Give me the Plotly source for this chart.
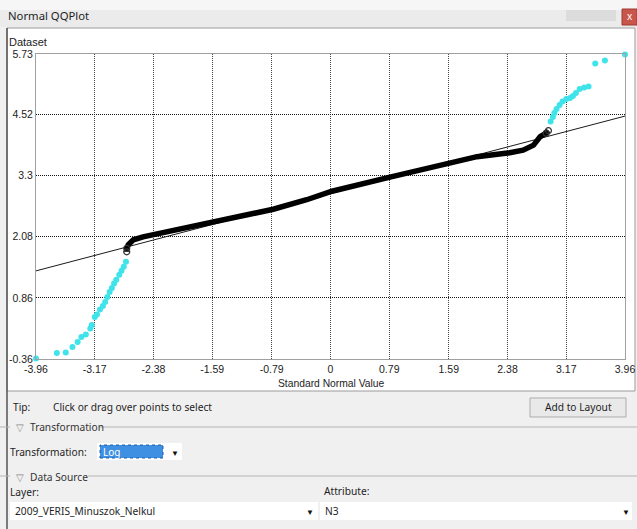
import plotly.graph_objects as go

W, H = 637, 529

# ---- data ----
x_ticks = [-3.96, -3.17, -2.38, -1.59, -0.79, 0, 0.79, 1.59, 2.38, 3.17, 3.96]
x_ticktext = ["-3.96", "-3.17", "-2.38", "-1.59", "-0.79", "0", "0.79", "1.59", "2.38", "3.17", "3.96"]
y_ticks = [-0.36, 0.86, 2.08, 3.3, 4.52, 5.73]
y_ticktext = ["-0.36", "0.86", "2.08", "3.3", "4.52", "5.73"]

# main body of the QQ plot (black hollow circles, dense band)
black_x = [-2.74, -2.74, -2.72, -2.65, -2.52, -2.36, -1.98, -1.58, -1.08, -0.77, -0.32,
           0.02, 0.80, 1.58, 1.97, 2.41, 2.59, 2.73, 2.82, 2.90, 2.93]
black_y = [1.78, 1.85, 1.92, 2.02, 2.08, 2.13, 2.23, 2.35, 2.52, 2.63, 2.82,
           2.99, 3.27, 3.55, 3.68, 3.76, 3.81, 3.91, 4.08, 4.15, 4.20]

# lower tail (cyan, selected points)
low_x = [-3.96, -3.68, -3.56, -3.47, -3.40, -3.35, -3.29, -3.23, -3.21, -3.17, -3.14,
         -3.10, -3.06, -3.03, -3.00, -2.97, -2.94, -2.91, -2.88, -2.84, -2.81, -2.78, -2.75]
low_y = [-0.35, -0.24, -0.23, -0.12, -0.02, 0.08, 0.13, 0.25, 0.32, 0.48, 0.53,
         0.63, 0.70, 0.78, 0.88, 0.98, 1.06, 1.15, 1.22, 1.32, 1.40, 1.48, 1.58]

# upper tail (cyan, selected points)
up_x = [2.96, 2.99, 3.01, 3.04, 3.08, 3.12, 3.17, 3.22, 3.26, 3.30, 3.35, 3.41, 3.47,
        3.56, 3.69, 3.96]
up_y = [4.38, 4.47, 4.55, 4.63, 4.71, 4.78, 4.83, 4.85, 4.89, 4.95, 5.03, 5.06, 5.08,
        5.54, 5.60, 5.72]

# reference line
ref_x = [-3.96, 3.96]
ref_y = [1.40, 4.49]

CYAN = "#3fe3ea"
PLOT_FONT = "Liberation Sans"
UI_FONT = "Noto Sans"
UI_SIZE = 10.2

# plot area in pixels
PX0, PX1 = 36, 625
PY0, PY1 = 54, 359


def px(x):
    return x / W


def py(y):
    return 1 - y / H


fig = go.Figure()

fig.add_trace(go.Scatter(x=ref_x, y=ref_y, mode="lines",
                         line=dict(color="#1a1a1a", width=1), hoverinfo="skip",
                         showlegend=False))
fig.add_trace(go.Scatter(x=black_x, y=black_y, mode="lines",
                         line=dict(color="black", width=5.5),
                         showlegend=False))
fig.add_trace(go.Scatter(x=black_x[:2] + black_x[-2:], y=black_y[:2] + black_y[-2:], mode="markers",
                         marker=dict(symbol="circle-open", size=6, color="#333",
                                     line=dict(width=1.2)),
                         showlegend=False))
fig.add_trace(go.Scatter(x=low_x, y=low_y, mode="markers",
                         marker=dict(color=CYAN, size=6), cliponaxis=False,
                         showlegend=False))
fig.add_trace(go.Scatter(x=up_x, y=up_y, mode="markers",
                         marker=dict(color=CYAN, size=6), cliponaxis=False,
                         showlegend=False))

shapes = []
# title bar
shapes.append(dict(type="rect", xref="paper", yref="paper", x0=0, x1=1, y0=py(27), y1=py(0),
                   fillcolor="#ebebeb", line=dict(width=0), layer="below"))
shapes.append(dict(type="rect", xref="paper", yref="paper", x0=0, x1=1, y0=py(10), y1=py(0),
                   fillcolor="#f6f6f6", line=dict(width=0), layer="below"))
# blurred title bar buttons
shapes.append(dict(type="rect", xref="paper", yref="paper", x0=px(566), x1=px(616), y0=py(21), y1=py(10),
                   fillcolor="#dcdcdc", line=dict(width=0), layer="below"))
shapes.append(dict(type="rect", xref="paper", yref="paper", x0=px(622), x1=px(637), y0=py(25), y1=py(9),
                   fillcolor="#c9564b", line=dict(color="#9e3b33", width=1), layer="below"))
# white chart panel
shapes.append(dict(type="rect", xref="paper", yref="paper", x0=px(7), x1=px(635), y0=py(391), y1=py(28),
                   fillcolor="white", line=dict(color="#9a9a9a", width=1), layer="below"))
shapes.append(dict(type="line", xref="paper", yref="paper", x0=px(7), x1=px(7), y0=py(529), y1=py(28),
                   line=dict(color="#555", width=1.5), layer="below"))
# Add to Layout button
shapes.append(dict(type="rect", xref="paper", yref="paper", x0=px(530), x1=px(626), y0=py(417), y1=py(398),
                   fillcolor="#e9e9e9", line=dict(color="#adadad", width=1), layer="below"))
# section separators
shapes.append(dict(type="line", xref="paper", yref="paper", x0=px(0), x1=px(10), y0=py(427), y1=py(427),
                   line=dict(color="#b5b5b5", width=1), layer="below"))
shapes.append(dict(type="line", xref="paper", yref="paper", x0=px(100), x1=px(637), y0=py(427), y1=py(427),
                   line=dict(color="#b5b5b5", width=1), layer="below"))
shapes.append(dict(type="line", xref="paper", yref="paper", x0=px(0), x1=px(10), y0=py(476), y1=py(476),
                   line=dict(color="#b5b5b5", width=1), layer="below"))
shapes.append(dict(type="line", xref="paper", yref="paper", x0=px(88), x1=px(637), y0=py(476), y1=py(476),
                   line=dict(color="#b5b5b5", width=1), layer="below"))
# Transformation dropdown
shapes.append(dict(type="rect", xref="paper", yref="paper", x0=px(97), x1=px(182), y0=py(460), y1=py(443),
                   fillcolor="white", line=dict(width=0), layer="below"))
shapes.append(dict(type="rect", xref="paper", yref="paper", x0=px(100), x1=px(163), y0=py(458), y1=py(445),
                   fillcolor="#3f8fe3", line=dict(color="#1f5fa8", width=1, dash="dot"), layer="below"))
# Layer / Attribute dropdowns
shapes.append(dict(type="rect", xref="paper", yref="paper", x0=px(10), x1=px(318), y0=py(520), y1=py(502),
                   fillcolor="white", line=dict(width=0), layer="below"))
shapes.append(dict(type="rect", xref="paper", yref="paper", x0=px(320), x1=px(632), y0=py(520), y1=py(502),
                   fillcolor="white", line=dict(width=0), layer="below"))

ann = []


def text(x, y, s, size=UI_SIZE, color="#1e1e1e", xanchor="left", font=UI_FONT):
    ann.append(dict(x=px(x), y=py(y), xref="paper", yref="paper", text=s, showarrow=False,
                    xanchor=xanchor, yanchor="middle", borderpad=0,
                    font=dict(family=font, size=size, color=color)))


text(7, 15, "Normal QQPlot", 11.3)
text(629.5, 16, "x", 10, "white", "center")
text(8, 42, "Dataset", 11, "#222", font=PLOT_FONT)
text(331, 383, "Standard Normal Value", 10.3, "#222", "center", font=PLOT_FONT)
text(12, 407, "Tip:")
text(52, 407, "Click or drag over points to select")
text(578, 407, "Add to Layout", UI_SIZE, "#1e1e1e", "center")
text(15, 427, "▽", 10, "#8a8a8a")
text(29, 427, "Transformation", UI_SIZE, "#333")
text(9, 452, "Transformation:")
text(102, 452, "Log", 10, "white")
text(175, 452, "▼", 8, "#111", "center")
text(15, 477, "▽", 10, "#8a8a8a")
text(29, 477, "Data Source", UI_SIZE, "#333")
text(9, 492, "Layer:")
text(14, 511, "2009_VERIS_Minuszok_Nelkul")
text(310, 511, "▼", 8, "#111", "center")
text(323, 491, "Attribute:")
text(324, 511, "N3")
text(626, 511, "▼", 8, "#111", "center")

fig.update_layout(
    width=W, height=H,
    margin=dict(l=0, r=0, t=0, b=0, pad=0, autoexpand=False),
    paper_bgcolor="#f0f0f0",
    plot_bgcolor="white",
    shapes=shapes,
    annotations=ann,
    xaxis=dict(domain=[px(PX0), px(PX1)], range=[-3.96, 3.96], tickvals=x_ticks, ticktext=x_ticktext,
               showgrid=True, gridcolor="#444", griddash="1px,1px", gridwidth=1,
               showline=True, linecolor="#a0a0a0", linewidth=1, mirror=True, zeroline=False,
               ticks="", tickfont=dict(family=PLOT_FONT, size=10.5, color="#222"),
               automargin=False, fixedrange=True),
    yaxis=dict(domain=[py(PY1), py(PY0)], range=[-0.36, 5.73], tickvals=y_ticks, ticktext=y_ticktext,
               showgrid=True, gridcolor="#111", griddash="1px,1px", gridwidth=1,
               showline=True, linecolor="#a0a0a0", linewidth=1, mirror=True, zeroline=False,
               ticks="", tickfont=dict(family=PLOT_FONT, size=10.5, color="#222"),
               automargin=False, fixedrange=True),
    showlegend=False,
)

fig.write_html("out.html", config=dict(displayModeBar=False),
               post_script="document.body.style.margin='0';document.body.style.overflow='hidden';")
